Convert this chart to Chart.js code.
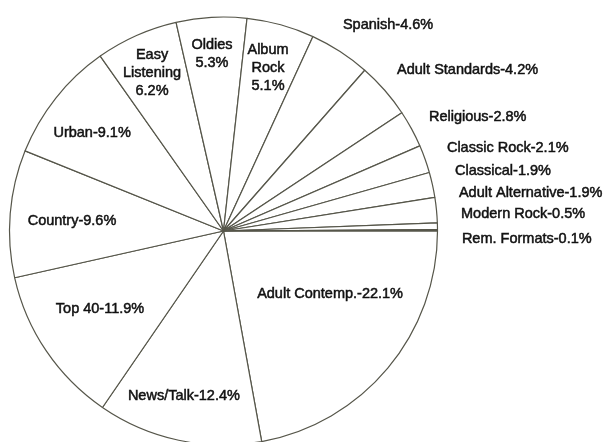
<!DOCTYPE html>
<html>
<head>
<meta charset="utf-8">
<script src="https://cdn.jsdelivr.net/npm/chart.js@4/dist/chart.umd.min.js"></script>
<style>
    html, body { margin: 0; padding: 0; background: #fff; }
    #wrap { width: 604px; height: 442px; overflow: hidden; position: relative; }
    canvas { display: block; }
</style>
</head>
<body>
<div id="wrap"><canvas id="formats" width="604" height="462"></canvas></div>
<script>
// Share of listening by station format, clockwise from 3 o'clock
const formats = ['Adult Contemp.', 'News/Talk', 'Top 40', 'Country', 'Urban', 'Easy Listening',
    'Oldies', 'Album Rock', 'Spanish', 'Adult Standards', 'Religious', 'Classic Rock',
    'Classical', 'Adult Alternative', 'Modern Rock', 'Rem. Formats'];
const shares = [22.1, 12.4, 11.9, 9.6, 9.1, 6.2, 5.3, 5.1, 4.6, 4.2, 2.8, 2.1, 1.9, 1.9, 0.5, 0.1];

// Label text as printed; stacked labels are split into lines
const labelLines = [
    ['Adult Contemp.-22.1%'], ['News/Talk-12.4%'], ['Top 40-11.9%'], ['Country-9.6%'],
    ['Urban-9.1%'], ['Easy', 'Listening', '6.2%'], ['Oldies', '5.3%'], ['Album', 'Rock', '5.1%'],
    ['Spanish-4.6%'], ['Adult Standards-4.2%'], ['Religious-2.8%'], ['Classic Rock-2.1%'],
    ['Classical-1.9%'], ['Adult Alternative-1.9%'], ['Modern Rock-0.5%'], ['Rem. Formats-0.1%']
];

// label placement in units of the pie radius from its centre; 'c' = centred, 'l' = left aligned
const labelPlace = [
    [0.498, 0.294, 'c'], [-0.185, 0.771, 'c'], [-0.577, 0.364, 'c'], [-0.708, -0.047, 'c'],
    [-0.614, -0.458, 'c'], [-0.334, -0.738, 'c'], [-0.054, -0.829, 'c'], [0.208, -0.762, 'c'],
    [0.558, -0.963, 'l'], [0.811, -0.752, 'l'], [0.960, -0.533, 'l'], [1.044, -0.388, 'l'],
    [1.082, -0.280, 'l'], [1.100, -0.178, 'l'], [1.110, -0.079, 'l'], [1.114, 0.037, 'l']
];

const sliceLabels = {
    id: 'sliceLabels',
    afterDatasetsDraw(chart) {
        const ctx = chart.ctx;
        const arc = chart.getDatasetMeta(0).data[0];
        const cx = arc.x, cy = arc.y, r = arc.outerRadius;
        ctx.save();
        ctx.font = '14.5px "Liberation Sans", Arial, sans-serif';
        ctx.fillStyle = '#121212';
        ctx.strokeStyle = '#121212';
        ctx.lineWidth = 0.5;  // printed type is a touch heavier than regular
        ctx.textBaseline = 'middle';
        labelLines.forEach((lines, i) => {
            const [fx, fy, align] = labelPlace[i];
            ctx.textAlign = align === 'l' ? 'left' : 'center';
            const x = cx + fx * r;
            const lineH = 18;
            const top = cy + fy * r - (lines.length - 1) * lineH / 2;
            lines.forEach((txt, j) => {
                ctx.fillText(txt, x, top + j * lineH);
                ctx.strokeText(txt, x, top + j * lineH);
            });
        });
        ctx.restore();
    }
};

new Chart(document.getElementById('formats'), {
    type: 'pie',
    data: {
        labels: formats,
        datasets: [{
            data: shares,
            backgroundColor: shares.map((v, i) => i === shares.length - 1 ? '#2b2b25' : '#ffffff'),
            borderColor: '#56564a',
            borderWidth: 1.2,
            hoverOffset: 0
        }]
    },
    options: {
        responsive: false,
        animation: false,
        devicePixelRatio: 1,
        rotation: 90,
        radius: 214,
        layout: { padding: { left: 0, right: 157, top: 0, bottom: 0 } },
        plugins: {
            legend: { display: false },
            tooltip: { enabled: false }
        }
    },
    plugins: [sliceLabels]
});
</script>
</body>
</html>
